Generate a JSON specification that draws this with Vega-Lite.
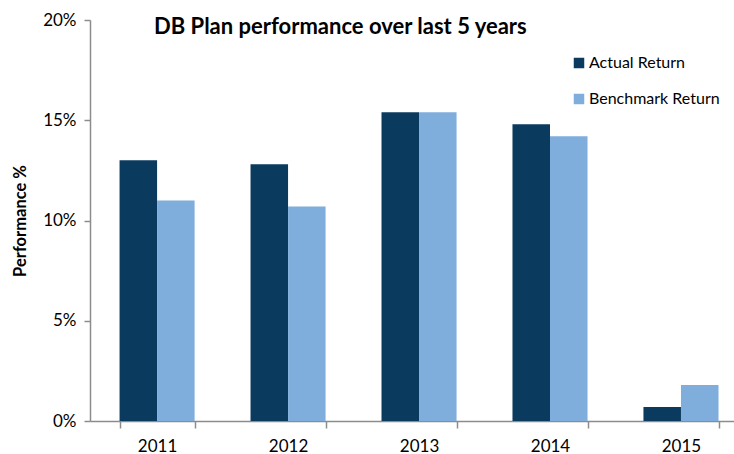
{
  "$schema": "https://vega.github.io/schema/vega-lite/v6.json",
  "autosize": "none",
  "padding": {"left": 90, "top": 20, "right": 0, "bottom": 33},
  "width": 644,
  "height": 401,
  "background": "white",
  "title": {
    "text": "DB Plan performance over last 5 years",
    "anchor": "start",
    "frame": "group",
    "dx": 64,
    "dy": 32,
    "fontSize": 22,
    "font": "Lato",
    "fontWeight": "bold",
    "color": "#000000"
  },
  "data": {
    "values": [
      {"year": "2011", "series": "Actual Return", "value": 13.0},
      {"year": "2011", "series": "Benchmark Return", "value": 11.0},
      {"year": "2012", "series": "Actual Return", "value": 12.8},
      {"year": "2012", "series": "Benchmark Return", "value": 10.7},
      {"year": "2013", "series": "Actual Return", "value": 15.4},
      {"year": "2013", "series": "Benchmark Return", "value": 15.4},
      {"year": "2014", "series": "Actual Return", "value": 14.8},
      {"year": "2014", "series": "Benchmark Return", "value": 14.2},
      {"year": "2015", "series": "Actual Return", "value": 0.7},
      {"year": "2015", "series": "Benchmark Return", "value": 1.8}
    ]
  },
  "mark": {"type": "bar"},
  "encoding": {
    "x": {
      "field": "year",
      "type": "nominal",
      "scale": {"paddingInner": 0.427, "paddingOuter": 0.172, "align": 0.656},
      "axis": {
        "title": null,
        "labelAngle": 0,
        "labelFont": "Lato",
        "labelFontSize": 17,
        "labelColor": "#000000",
        "labelPadding": 10,
        "domainColor": "#8c8c8c",
        "domainWidth": 1.5,
        "tickColor": "#8c8c8c",
        "tickSize": 7,
        "tickWidth": 1.5,
        "tickBand": "extent",
        "bandPosition": 0
      }
    },
    "xOffset": {"field": "series", "type": "nominal", "scale": {"paddingInner": 0}},
    "y": {
      "field": "value",
      "type": "quantitative",
      "scale": {"domain": [0, 20]},
      "axis": {
        "title": "Performance %",
        "titleFont": "Lato",
        "titleFontSize": 16.5,
        "titleFontWeight": "bold",
        "titleColor": "#000000",
        "titlePadding": 14,
        "values": [0, 5, 10, 15, 20],
        "labelExpr": "datum.value + '%'",
        "labelFont": "Lato",
        "labelFontSize": 17,
        "labelColor": "#000000",
        "labelPadding": 8,
        "grid": false,
        "domainColor": "#8c8c8c",
        "domainWidth": 1.5,
        "tickColor": "#8c8c8c",
        "tickSize": 6,
        "tickWidth": 1.5
      }
    },
    "color": {
      "field": "series",
      "type": "nominal",
      "scale": {"domain": ["Actual Return", "Benchmark Return"], "range": ["#0B3A5F", "#7FADDC"]},
      "legend": {
        "title": null,
        "orient": "none",
        "legendX": 481,
        "legendY": 35,
        "symbolType": "square",
        "symbolSize": 110,
        "symbolStrokeWidth": 0,
        "symbolOpacity": 1,
        "labelFont": "Lato",
        "labelFontSize": 16,
        "labelColor": "#000000",
        "labelOffset": 2,
        "rowPadding": 20
      }
    }
  },
  "config": {"view": {"stroke": null}}
}
